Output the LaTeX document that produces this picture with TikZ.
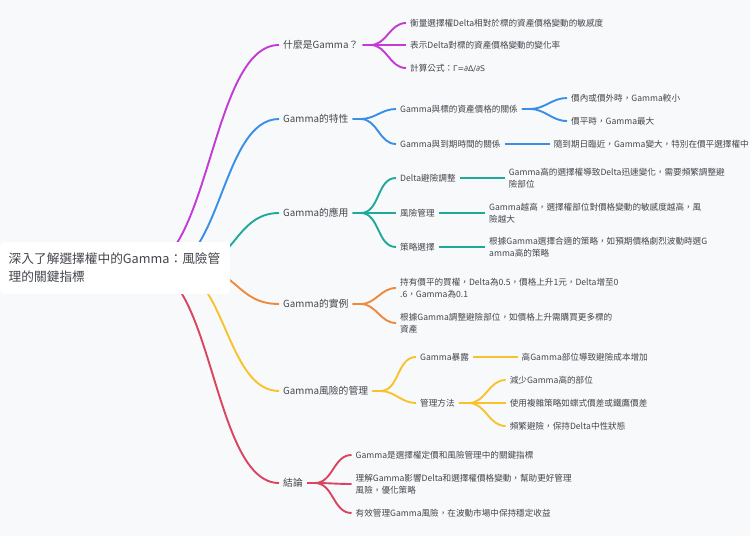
\documentclass[tikz,border=0pt]{standalone}
\usepackage{fontspec}
\setmainfont{Noto Sans CJK TC}
\newfontfamily\latinf{DejaVu Sans}
\definecolor{bgc}{HTML}{F8F9FB}
\definecolor{textc}{HTML}{43464C}
\definecolor{cP}{HTML}{C23BD4}
\definecolor{cB}{HTML}{3A8EE6}
\definecolor{cT}{HTML}{1FA99A}
\definecolor{cO}{HTML}{EF8A3C}
\definecolor{cY}{HTML}{F8C22C}
\definecolor{cR}{HTML}{D94460}
\begin{document}
\begin{tikzpicture}[x=1pt,y=-1pt,
  txt/.style={font=\fontsize{8.6}{11.7}\selectfont, text=textc, inner xsep=4pt, inner ysep=2pt, anchor=west, align=left},
  br/.style={font=\fontsize{9.8}{12}\selectfont, text=textc, inner xsep=4pt, inner ysep=2pt, anchor=west},
  rootn/.style={font=\fontsize{12.7}{18}\selectfont, text=textc, fill=white, rounded corners=4pt, inner xsep=8.5pt, text width=213pt, minimum height=52pt, align=left, anchor=west},
  ep/.style={draw=cP, line width=1.9pt},
  eb/.style={draw=cB, line width=1.9pt},
  et/.style={draw=cT, line width=1.9pt},
  eo/.style={draw=cO, line width=1.9pt},
  ey/.style={draw=cY, line width=1.9pt},
  er/.style={draw=cR, line width=1.9pt},
  fan/.style={out=0,in=180}
]
\useasboundingbox[fill=bgc] (0,0) rectangle (750,536);

% branch nodes
\node[br] (b1) at (279,45) {什麼是Gamma？};
\node[br] (b2) at (279,119) {Gamma的特性};
\node[br] (b3) at (279,213) {Gamma的應用};
\node[br] (b4) at (279,304) {Gamma的實例};
\node[br] (b5) at (279,391) {Gamma風險的管理};
\node[br] (b6) at (279,483) {結論};

% purple
\node[txt] (p1) at (406,23) {衡量選擇權Delta相對於標的資產價格變動的敏感度};
\node[txt] (p2) at (406,45) {表示Delta對標的資產價格變動的變化率};
\node[txt] (p3) at (406,68) {計算公式：{\latinf\fontsize{7.8}{11}\selectfont Γ=∂Δ/∂S}};
% blue
\node[txt] (q1) at (396,109) {Gamma與標的資產價格的關係};
\node[txt] (q11) at (567,98) {價內或價外時，Gamma較小};
\node[txt] (q12) at (567,121) {價平時，Gamma最大};
\node[txt] (q2) at (396,144) {Gamma與到期時間的關係};
\node[txt] (q21) at (549.6,144) {隨到期日臨近，Gamma變大，特別在價平選擇權中};
% teal
\node[txt] (t1) at (396,178) {Delta避險調整};
\node[txt] (t11) at (504.6,178.5) {Gamma高的選擇權導致Delta迅速變化，需要頻繁調整避\\險部位};
\node[txt] (t2) at (396,213) {風險管理};
\node[txt] (t21) at (485,213) {Gamma越高，選擇權部位對價格變動的敏感度越高，風\\險越大};
\node[txt] (t3) at (396,247) {策略選擇};
\node[txt] (t31) at (485,247.5) {根據Gamma選擇合適的策略，如預期價格劇烈波動時選G\\amma高的策略};
% orange
\node[txt] (o1) at (396,288) {持有價平的買權，Delta為0.5，價格上升1元，Delta增至0\\.6，Gamma為0.1};
\node[txt] (o2) at (396,323) {根據Gamma調整避險部位，如價格上升需購買更多標的\\資產};
% yellow
\node[txt] (y1) at (416,357) {Gamma暴露};
\node[txt] (y11) at (517.5,357) {高Gamma部位導致避險成本增加};
\node[txt] (y2) at (416,403) {管理方法};
\node[txt] (y21) at (505.6,380) {減少Gamma高的部位};
\node[txt] (y22) at (505.6,403) {使用複雜策略如蝶式價差或鐵鷹價差};
\node[txt] (y23) at (505.6,426) {頻繁避險，保持Delta中性狀態};
% red
\node[txt] (r1) at (351.5,455) {Gamma是選擇權定價和風險管理中的關鍵指標};
\node[txt] (r2) at (351.5,484) {理解Gamma影響Delta和選擇權價格變動，幫助更好管理\\風險，優化策略};
\node[txt] (r3) at (351.5,513) {有效管理Gamma風險，在波動市場中保持穩定收益};

% root-level curves
\coordinate (s1) at (142,268);
\coordinate (s2) at (164,268);
\coordinate (s3) at (190,268);
\coordinate (s4) at (195,268);
\coordinate (s5) at (172,268);
\coordinate (s6) at (147,268);
\draw[ep] (s1) .. controls +(68,0) and +(-68,0) .. (b1.west);
\draw[eb] (s2) .. controls +(57,0) and +(-57,0) .. (b2.west);
\draw[et] (s3) .. controls +(44,0) and +(-44,0) .. (b3.west);
\draw[eo] (s4) .. controls +(42,0) and +(-42,0) .. (b4.west);
\draw[ey] (s5) .. controls +(53,0) and +(-53,0) .. (b5.west);
\draw[er] (s6) .. controls +(66,0) and +(-66,0) .. (b6.west);

% purple edges
\draw[ep] (b1.east) -- ++(8,0) to[fan] (p1.west);
\draw[ep] (b1.east) -- ++(8,0) to[fan] (p2.west);
\draw[ep] (b1.east) -- ++(8,0) to[fan] (p3.west);
% blue edges
\draw[eb] (b2.east) -- ++(8,0) to[fan] (q1.west);
\draw[eb] (b2.east) -- ++(8,0) to[fan] (q2.west);
\draw[eb] (q1.east) -- ++(8,0) to[fan] (q11.west);
\draw[eb] (q1.east) -- ++(8,0) to[fan] (q12.west);
\draw[eb] (q2.east) -- (q2.east -| q21.west);
% teal edges
\draw[et] (b3.east) -- ++(8,0) to[fan] (t1.west);
\draw[et] (b3.east) -- ++(8,0) to[fan] (t2.west);
\draw[et] (b3.east) -- ++(8,0) to[fan] (t3.west);
\draw[et] (t1.east) -- (t1.east -| t11.west);
\draw[et] (t2.east) -- (t2.east -| t21.west);
\draw[et] (t3.east) -- (t3.east -| t31.west);
% orange edges
\draw[eo] (b4.east) -- ++(8,0) to[fan] (o1.west);
\draw[eo] (b4.east) -- ++(8,0) to[fan] (o2.west);
% yellow edges
\draw[ey] (b5.east) -- ++(8,0) to[fan] (y1.west);
\draw[ey] (b5.east) -- ++(8,0) to[fan] (y2.west);
\draw[ey] (y1.east) -- (y1.east -| y11.west);
\draw[ey] (y2.east) -- ++(10,0) to[fan] (y21.west);
\draw[ey] (y2.east) -- ++(10,0) to[fan] (y22.west);
\draw[ey] (y2.east) -- ++(10,0) to[fan] (y23.west);
% red edges
\draw[er] (b6.east) -- ++(8,0) to[fan] (r1.west);
\draw[er] (b6.east) -- ++(8,0) to[fan] (r2.west);
\draw[er] (b6.east) -- ++(8,0) to[fan] (r3.west);

% root node on top
\node[rootn] (root) at (0,268) {深入了解選擇權中的Gamma：風險管\\理的關鍵指標};
\end{tikzpicture}
\end{document}
